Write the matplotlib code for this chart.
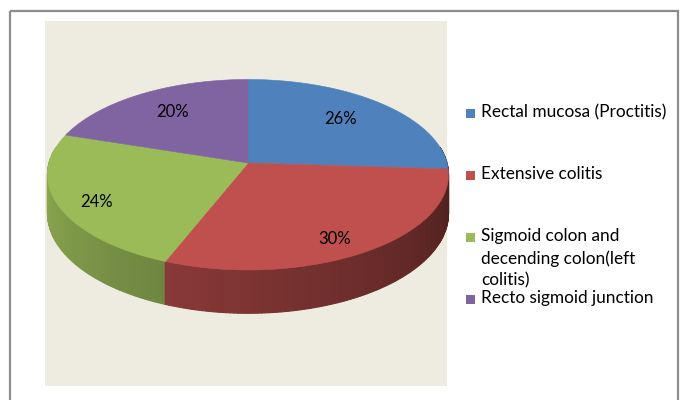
import numpy as np
import matplotlib.pyplot as plt
from matplotlib.patches import Polygon, Rectangle

# shares of the four sites (percent)
sites = ['Rectal mucosa (Proctitis)', 'Extensive colitis',
         'Sigmoid colon and\ndecending colon(left\ncolitis)', 'Recto sigmoid junction']
shares = [26, 30, 24, 20]
labels = ['26%', '30%', '24%', '20%']
colors = ['#4F81BD', '#C0504D', '#9BBB59', '#8064A2']

plt.rcParams['font.family'] = ['Lato', 'DejaVu Sans']

fig = plt.figure(figsize=(6.81, 4), dpi=100)
ax = fig.add_axes([0, 0, 1, 1])
ax.set_xlim(0, 681)
ax.set_ylim(400, 0)
ax.axis('off')

# outer frame and plot area
ax.add_patch(Rectangle((10, 11), 668, 400, fill=False, edgecolor='#8C8C8C', lw=1.6))
ax.add_patch(Rectangle((45, 21), 402, 365, facecolor='#EEECE1', edgecolor='none'))

# 3d pie geometry: tilted disc with a little perspective
cx, cy = 248, 163
A, B = 199, 93.8
k = 0.123
depth = 38


def project(theta, r=1.0, down=0.0):
    t = np.radians(theta)
    u, v = r * np.sin(t), -r * np.cos(t)
    s = 1.0 / (1.0 - k * v)
    return cx + A * u * s, cy + B * v * s + down * s


def darker(c, f):
    rgb = np.array([int(c[i:i + 2], 16) for i in (1, 3, 5)]) / 255.0
    return tuple(rgb * f)


fracs = np.array(shares) / sum(shares)
bounds = np.concatenate([[0], np.cumsum(fracs) * 360])

# side wall, drawn as thin strips from back to front
strips = []
for i, c in enumerate(colors):
    a0, a1 = bounds[i], bounds[i + 1]
    th = np.arange(a0, a1, 1.0)
    th = np.append(th, a1)
    for t0, t1 in zip(th[:-1], th[1:]):
        tm = (t0 + t1) / 2
        if not (80 <= tm <= 280):
            continue
        shade = 0.38 + (tm - 90) / 180 * 0.54
        pts = [project(t0), project(t1), project(t1, down=depth), project(t0, down=depth)]
        strips.append((-np.cos(np.radians(tm)), pts, darker(c, shade)))
for _, pts, col in sorted(strips, key=lambda s: s[0]):
    ax.add_patch(Polygon(pts, closed=True, facecolor=col, edgecolor=col, lw=0.8))

# top face slices
for i, c in enumerate(colors):
    th = np.linspace(bounds[i], bounds[i + 1], 80)
    pts = [(cx, cy)] + [project(t) for t in th]
    ax.add_patch(Polygon(pts, closed=True, facecolor=c, edgecolor=c, lw=0.4))

# percentage labels, placed along each slice's middle angle then nudged
label_r = [0.66, 0.8, 0.8, 0.74]
label_dx = [2, -6, -1, 5]
label_dy = [-4, 7, 6, 1]
for i, lab in enumerate(labels):
    mid = (bounds[i] + bounds[i + 1]) / 2
    x, y = project(mid, label_r[i])
    ax.text(x + label_dx[i], y + label_dy[i], lab, ha='center', va='center',
            fontsize=12, color='black')

# legend
legend_y = [113, 175, 237, 299]
for i, name in enumerate(sites):
    ax.add_patch(Rectangle((466, legend_y[i] - 4.5), 9, 9, facecolor=colors[i], edgecolor='none'))
    ax.text(481, legend_y[i] - 9, name, ha='left', va='top', fontsize=12.4,
            linespacing=1.45, color='black')

fig.savefig('out.png', dpi=100)
